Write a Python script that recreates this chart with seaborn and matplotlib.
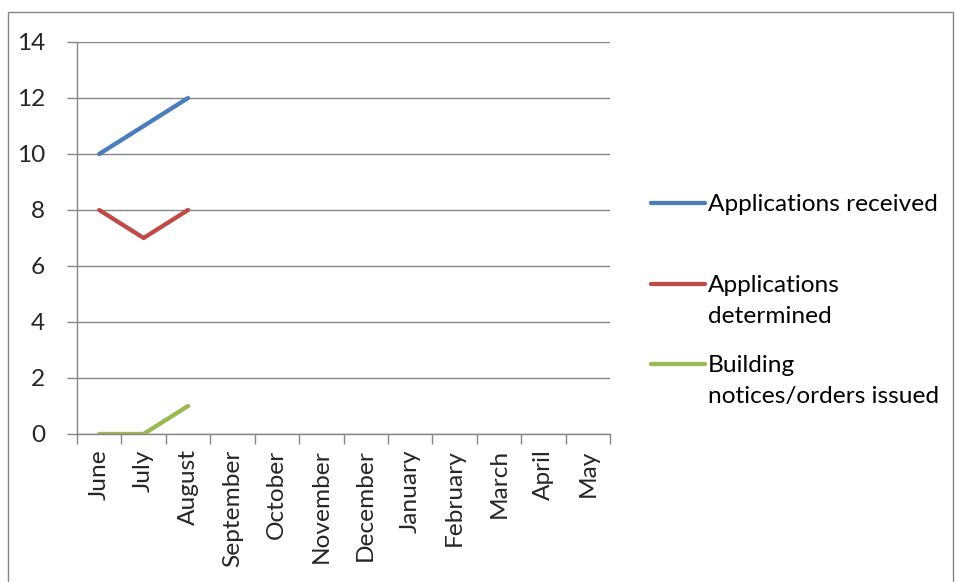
import matplotlib
matplotlib.use("Agg")
import matplotlib.pyplot as plt
import seaborn as sns
import pandas as pd
import numpy as np
from matplotlib.lines import Line2D
from matplotlib.patches import Rectangle

months = ["June", "July", "August", "September", "October", "November",
          "December", "January", "February", "March", "April", "May"]
series_names = ["Applications received", "Applications\ndetermined",
                "Building\nnotices/orders issued"]
received = [10, 11, 12]
determined = [8, 7, 8]
notices = [0, 0, 1]
colors = ["#4A7EBB", "#BE4B48", "#98B954"]
yticks = [0, 2, 4, 6, 8, 10, 12, 14]

rows = []
for name, vals in zip(series_names, [received, determined, notices]):
    for i, v in enumerate(vals):
        rows.append({"pos": i, "value": v, "series": name})
df = pd.DataFrame(rows)

sns.set_theme(style="white")
plt.rcParams['font.family'] = ['Lato', 'DejaVu Sans']
FS = 17.6

W, H = 955, 582
fig = plt.figure(figsize=(W / 100, H / 100), dpi=100)
ax = fig.add_axes([77 / W, 1 - 434 / H, (610 - 77) / W, (434 - 42) / H])

sns.lineplot(data=df, x="pos", y="value", hue="series", palette=colors,
             hue_order=series_names, linewidth=3.1, ax=ax, legend=False,
             solid_capstyle="round")

grid_c = "#868686"
ax.set_xlim(-0.5, 11.5)
ax.set_ylim(0, 14)
ax.set_yticks(yticks)
ax.set_yticklabels([str(t) for t in yticks], fontsize=FS)
ax.set_xticks(range(len(months)))
ax.set_xticklabels(months, rotation=90, fontsize=FS)
ax.set_xticks(np.arange(-0.5, 12, 1), minor=True)
ax.tick_params(axis="x", which="major", length=0, pad=11)
ax.tick_params(axis="x", which="minor", length=7, color=grid_c, width=1, direction="out", bottom=True)
ax.tick_params(axis="y", which="major", length=7, color=grid_c, width=1, direction="out", left=True, pad=16)
ax.yaxis.grid(True, color=grid_c, linewidth=1)
ax.set_axisbelow(True)
for s in ["top", "right"]:
    ax.spines[s].set_visible(False)
for s in ["left", "bottom"]:
    ax.spines[s].set_color(grid_c)
    ax.spines[s].set_linewidth(1)
ax.set_xlabel("")
ax.set_ylabel("")

# legend drawn manually (Excel style: handle aligned with first line)
leg_y = [203, 284, 364]
for name, c, y in zip(series_names, colors, leg_y):
    fig.add_artist(Line2D([651 / W, 705 / W], [1 - y / H, 1 - y / H], color=c,
                          linewidth=3.1, solid_capstyle="round",
                          transform=fig.transFigure))
    fig.text(708 / W, 1 - (y - 9) / H, name, fontsize=FS, va="top", ha="left",
             linespacing=1.6, color="black")

fig.add_artist(Rectangle((8 / W, -0.01), (953 - 8) / W, 1.01 - 12 / H,
                         transform=fig.transFigure, fill=False,
                         edgecolor=grid_c, linewidth=1))

fig.savefig("out.png", dpi=100)
